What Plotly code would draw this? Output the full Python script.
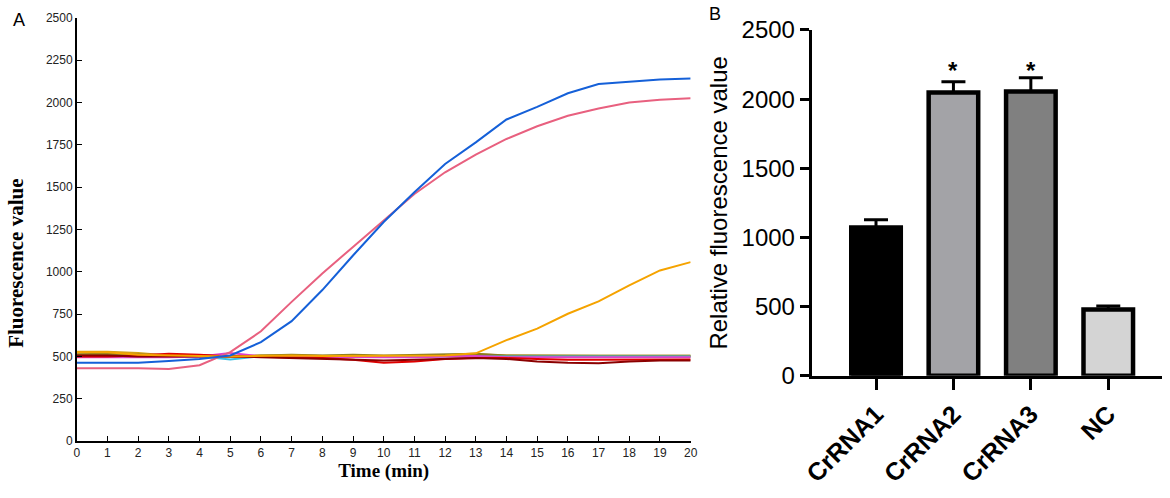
import plotly.graph_objects as go

# ---------------- Panel A data ----------------
time_min = list(range(0, 21))
blue_vals = [462, 462, 462, 473, 485, 505, 584, 708, 892, 1096, 1294, 1470, 1637, 1765, 1900, 1975, 2055, 2110, 2122, 2137, 2142]
pink_vals = [430, 430, 430, 425, 448, 525, 648, 822, 990, 1147, 1306, 1460, 1588, 1693, 1785, 1860, 1922, 1965, 2001, 2017, 2026]
orange_vals = [525, 525, 510, 505, 502, 500, 502, 505, 502, 503, 500, 502, 505, 518, 596, 664, 752, 825, 920, 1008, 1057]
olive_vals = [512, 515, 510, 508, 505, 500, 505, 510, 505, 510, 505, 508, 510, 515, 505, 503, 503, 503, 503, 503, 503]
darkred_vals = [505, 505, 500, 500, 498, 500, 495, 490, 485, 478, 475, 480, 485, 490, 485, 470, 462, 460, 470, 475, 475]
red_vals = [500, 500, 505, 515, 510, 500, 498, 495, 490, 480, 462, 470, 485, 490, 490, 485, 480, 480, 480, 482, 482]
magenta_vals = [495, 495, 492, 495, 500, 520, 500, 498, 495, 495, 495, 495, 497, 502, 495, 495, 495, 495, 495, 495, 495]
cyan_vals = [500, 500, 500, 500, 500, 482, 500, 500, 500, 500, 500, 500, 500, 500, 500, 500, 500, 500, 500, 500, 500]
brown_vals = [510, 510, 508, 512, 508, 502, 500, 500, 500, 503, 500, 500, 502, 505, 500, 498, 498, 498, 498, 498, 498]
gold_vals = [528, 528, 520, 505, 505, 500, 505, 505, 502, 502, 500, 500, 505, 512, 505, 503, 503, 503, 503, 503, 503]

a_x_ticks = list(range(0, 21))
a_y_ticks = [0, 250, 500, 750, 1000, 1250, 1500, 1750, 2000, 2250, 2500]

# ---------------- Panel B data ----------------
groups = ["CrRNA1", "CrRNA2", "CrRNA3", "NC"]
means = [1072, 2048, 2055, 478]
err_up = [55, 78, 100, 26]
sig_groups = ["CrRNA2", "CrRNA3"]
sig_height = [2210, 2210]
b_y_ticks = [0, 500, 1000, 1500, 2000, 2500]
bar_colors = ["#000000", "#a3a3a7", "#808080", "#d4d4d4"]

fig = go.Figure()

line_series = [
    (gold_vals, "#d4a017"),
    (brown_vals, "#8b5a2b"),
    (olive_vals, "#8a7d1e"),
    (cyan_vals, "#3cc0e6"),
    (magenta_vals, "#e040c8"),
    (red_vals, "#e00000"),
    (darkred_vals, "#8b0000"),
    (orange_vals, "#f5a300"),
    (pink_vals, "#e8607f"),
    (blue_vals, "#1560d8"),
]
for vals, col in line_series:
    fig.add_trace(go.Scatter(x=time_min, y=vals, mode="lines",
                             line=dict(color=col, width=2),
                             xaxis="x", yaxis="y", showlegend=False))

fig.add_trace(go.Bar(x=groups, y=means,
                     marker=dict(color=bar_colors, line=dict(color="black", width=4.5)),
                     error_y=dict(type="data", symmetric=False, array=err_up,
                                  arrayminus=[0, 0, 0, 0], color="black",
                                  thickness=3, width=12),
                     xaxis="x2", yaxis="y2", showlegend=False))

for g, h in zip(sig_groups, sig_height):
    fig.add_annotation(x=g, y=h, xref="x2", yref="y2", text="<b>*</b>",
                       showarrow=False, yanchor="middle",
                       font=dict(family="Liberation Sans", size=24, color="black"))

fig.add_annotation(x=0.009, y=0.96, xref="paper", yref="paper", text="A",
                   showarrow=False, xanchor="left", yanchor="middle",
                   font=dict(family="Liberation Sans", size=18, color="black"))
fig.add_annotation(x=0.604, y=0.972, xref="paper", yref="paper", text="B",
                   showarrow=False, xanchor="left", yanchor="middle",
                   font=dict(family="Liberation Sans", size=18, color="black"))
# y title of panel A (placed as in the reference, below the axis centre)
fig.add_annotation(x=0.0135, y=1 - 263 / 498, xref="paper", yref="paper",
                   text="<b>Fluorescence value</b>", textangle=-90,
                   showarrow=False, xanchor="center", yanchor="middle",
                   font=dict(family="Liberation Serif", size=21, color="black"))

fig.update_layout(
    width=1170, height=498,
    margin=dict(l=0, r=0, t=0, b=0, autoexpand=False),
    paper_bgcolor="white", plot_bgcolor="white",
    bargap=0.36,
    xaxis=dict(domain=[0.0656, 0.5903], range=[0, 20], tickvals=a_x_ticks,
               showline=True, linecolor="black", linewidth=1.5, mirror=False,
               ticks="inside", ticklen=5, tickcolor="black", showgrid=False, zeroline=False,
               tickfont=dict(family="Liberation Sans", size=12, color="#222"),
               title=dict(text="<b>Time (min)</b>", standoff=3,
                          font=dict(family="Liberation Serif", size=19, color="black")),
               automargin=False, anchor="y"),
    yaxis=dict(domain=[0.1145, 0.9639], range=[0, 2500], tickvals=a_y_ticks,
               showline=True, linecolor="black", linewidth=1.5,
               ticks="inside", ticklen=5, tickcolor="black", showgrid=False, zeroline=False,
               tickfont=dict(family="Liberation Sans", size=12, color="#222"),
               automargin=False, anchor="x"),
    xaxis2=dict(domain=[0.6938, 0.9929], range=[-0.83, 3.69],
                showline=True, linecolor="black", linewidth=3,
                ticks="outside", ticklen=11, tickwidth=3, tickcolor="black",
                showgrid=False, zeroline=False, tickangle=-45,
                tickfont=dict(family="Liberation Sans", size=25, color="black"),
                tickprefix="<b>", ticksuffix="</b>",
                automargin=False, anchor="y2"),
    yaxis2=dict(domain=[0.2456, 0.9398], range=[0, 2500], tickvals=b_y_ticks,
                showline=True, linecolor="black", linewidth=3,
                ticks="outside", ticklen=9, tickwidth=3, tickcolor="black",
                showgrid=False, zeroline=False,
                tickfont=dict(family="Liberation Sans", size=24, color="black"),
                tickprefix="<b>", ticksuffix="</b>",
                title=dict(text="Relative fluorescence value", standoff=8,
                           font=dict(family="Liberation Sans", size=24, color="black")),
                automargin=False, anchor="x2"),
)

fig.write_html("out.html", config={"displayModeBar": False},
               post_script="document.body.style.margin='0';document.body.style.overflow='hidden';")
